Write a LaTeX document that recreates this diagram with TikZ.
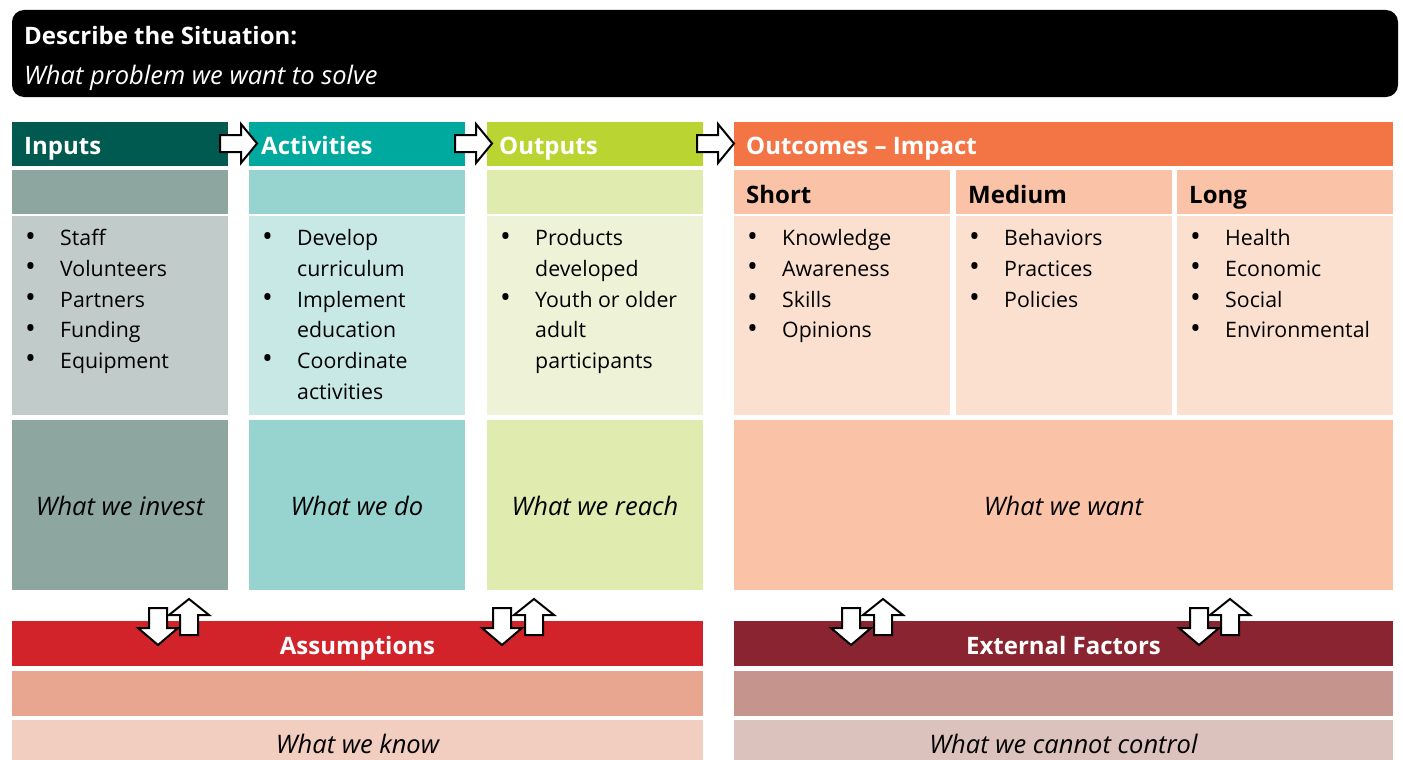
\documentclass[tikz,border=0pt]{standalone}
\usepackage{fontspec}
\setmainfont{Open Sans}
\usepackage{array}
\usepackage{graphicx}

% palette
\definecolor{inHd}{HTML}{005A4F}
\definecolor{inSub}{HTML}{8DA6A0}
\definecolor{inBody}{HTML}{C1CBC9}
\definecolor{acHd}{HTML}{00A99D}
\definecolor{acSub}{HTML}{97D4D0}
\definecolor{acBody}{HTML}{C8E8E6}
\definecolor{ouHd}{HTML}{BAD532}
\definecolor{ouSub}{HTML}{E0EBAF}
\definecolor{ouBody}{HTML}{EEF3D8}
\definecolor{ocHd}{HTML}{F37545}
\definecolor{ocSub}{HTML}{FAC3A8}
\definecolor{ocBody}{HTML}{FBDFCF}
\definecolor{asHd}{HTML}{D2232A}
\definecolor{asBand}{HTML}{E8A691}
\definecolor{asBot}{HTML}{F2CEC1}
\definecolor{exHd}{HTML}{8A2430}
\definecolor{exBand}{HTML}{C5948D}
\definecolor{exBot}{HTML}{DCC2BC}

\tikzset{
  panel/.style={rectangle, inner sep=0pt, outer sep=0pt, anchor=north west, draw=none},
  hdtext/.style={inner sep=0pt, anchor=base west, text=white, font=\fontsize{24}{28}\selectfont\bfseries},
  subtext/.style={inner sep=0pt, anchor=base west, text=black, font=\fontsize{24}{28}\selectfont\bfseries},
  midtext/.style={inner sep=0pt, anchor=base, text=white, font=\fontsize{24}{28}\selectfont\bfseries},
  ittext/.style={inner sep=0pt, anchor=base, text=black, font=\fontsize{25.5}{30}\selectfont\itshape},
  listtext/.style={inner sep=0pt, anchor=north west, align=left, text=black, font=\fontsize{21.3}{30.7}\selectfont},
  blockarrow/.style={draw=black, fill=white, line width=2pt, line join=miter}
}

% bulleted rows: a larger bullet, then the item text at a fixed indent
\newcommand{\itemlist}[1]{\begin{tabular}{@{}p{35pt}@{}l@{}}#1\end{tabular}}
\newcommand{\bul}{\raisebox{-0.5pt}{\scalebox{1.35}{•}}}

\begin{document}
\begin{tikzpicture}[x=1pt, y=-1pt]
\useasboundingbox (0,0) rectangle (1403,760);

% situation banner
\node[panel, fill=black, rounded corners=12pt, minimum width=1386, minimum height=87] (sit) at (12,10) {};
\node[hdtext] (sitT) at (24,45) {Describe the Situation:};
\node[hdtext, font=\fontsize{25.5}{30}\selectfont\itshape] (sitS) at (24,84.5) {What problem we want to solve};

% column headers
\node[panel, fill=inHd, minimum width=216, minimum height=44] (inHead) at (12,122) {};
\node[panel, fill=acHd, minimum width=216, minimum height=44] (acHead) at (249,122) {};
\node[panel, fill=ouHd, minimum width=216, minimum height=44] (ouHead) at (487,122) {};
\node[panel, fill=ocHd, minimum width=659, minimum height=44] (ocHead) at (734,122) {};
\node[hdtext] (inHeadT) at (24,154) {Inputs};
\node[hdtext] (acHeadT) at (261,154) {Activities};
\node[hdtext] (ouHeadT) at (499,154) {Outputs};
\node[hdtext] (ocHeadT) at (746,154) {Outcomes – Impact};

% sub-header bands
\node[panel, fill=inSub, minimum width=216, minimum height=44] (inSubB) at (12,170) {};
\node[panel, fill=acSub, minimum width=216, minimum height=44] (acSubB) at (249,170) {};
\node[panel, fill=ouSub, minimum width=216, minimum height=44] (ouSubB) at (487,170) {};
\node[panel, fill=ocSub, minimum width=216, minimum height=44] (shSubB) at (734,170) {};
\node[panel, fill=ocSub, minimum width=216, minimum height=44] (meSubB) at (956,170) {};
\node[panel, fill=ocSub, minimum width=216, minimum height=44] (loSubB) at (1177,170) {};
\node[subtext] (shSubT) at (746,203) {Short};
\node[subtext] (meSubT) at (968,203) {Medium};
\node[subtext] (loSubT) at (1189,203) {Long};

% list bodies
\node[panel, fill=inBody, minimum width=216, minimum height=199] (inBodyB) at (12,216) {};
\node[panel, fill=acBody, minimum width=216, minimum height=199] (acBodyB) at (249,216) {};
\node[panel, fill=ouBody, minimum width=216, minimum height=199] (ouBodyB) at (487,216) {};
\node[panel, fill=ocBody, minimum width=216, minimum height=199] (shBodyB) at (734,216) {};
\node[panel, fill=ocBody, minimum width=216, minimum height=199] (meBodyB) at (956,216) {};
\node[panel, fill=ocBody, minimum width=216, minimum height=199] (loBodyB) at (1177,216) {};

\node[listtext] (inList) at (25,224) {\itemlist{\bul&Staff\\\bul&Volunteers\\\bul&Partners\\\bul&Funding\\\bul&Equipment}};
\node[listtext] (acList) at (262,224) {\itemlist{\bul&Develop\\&curriculum\\\bul&Implement\\&education\\\bul&Coordinate\\&activities}};
\node[listtext] (ouList) at (500,224) {\itemlist{\bul&Products\\&developed\\\bul&Youth or older\\&adult\\&participants}};
\node[listtext] (shList) at (747,224) {\itemlist{\bul&Knowledge\\\bul&Awareness\\\bul&Skills\\\bul&Opinions}};
\node[listtext] (meList) at (969,224) {\itemlist{\bul&Behaviors\\\bul&Practices\\\bul&Policies}};
\node[listtext] (loList) at (1190,224) {\itemlist{\bul&Health\\\bul&Economic\\\bul&Social\\\bul&Environmental}};

% bottom boxes
\node[panel, fill=inSub, minimum width=216, minimum height=170] (inBot) at (12,420) {};
\node[panel, fill=acSub, minimum width=216, minimum height=170] (acBot) at (249,420) {};
\node[panel, fill=ouSub, minimum width=216, minimum height=170] (ouBot) at (487,420) {};
\node[panel, fill=ocSub, minimum width=659, minimum height=170] (ocBot) at (734,420) {};
\node[ittext] (inBotT) at (120,515) {What we invest};
\node[ittext] (acBotT) at (357,515) {What we do};
\node[ittext] (ouBotT) at (595,515) {What we reach};
\node[ittext] (ocBotT) at (1063.5,515) {What we want};

% assumptions and external factors
\node[panel, fill=asHd, minimum width=691, minimum height=45] (asHead) at (12,621) {};
\node[panel, fill=asBand, minimum width=691, minimum height=45] (asBandB) at (12,671) {};
\node[panel, fill=asBot, minimum width=691, minimum height=40] (asBotB) at (12,720) {};
\node[panel, fill=exHd, minimum width=659, minimum height=45] (exHead) at (734,621) {};
\node[panel, fill=exBand, minimum width=659, minimum height=45] (exBandB) at (734,671) {};
\node[panel, fill=exBot, minimum width=659, minimum height=40] (exBotB) at (734,720) {};
\node[midtext] (asHeadT) at (357.5,654) {Assumptions};
\node[midtext] (exHeadT) at (1063.5,654) {External Factors};
\node[ittext] (asBotT) at (357.5,753) {What we know};
\node[ittext] (exBotT) at (1063.5,753) {What we cannot control};

% right block arrows between headers
\foreach \x in {220,455,697}{
  \draw[blockarrow] (\x,135) -- (\x+21,135) -- (\x+21,124) -- (\x+37,143.5)
    -- (\x+21,163) -- (\x+21,152) -- (\x,152) -- cycle;
}

% down/up block arrow pairs
\foreach \d/\u in {158/189, 502/534, 851/883, 1199/1230}{
  \draw[blockarrow] (\d-9,608) -- (\d+9,608) -- (\d+9,628) -- (\d+20,628)
    -- (\d,645) -- (\d-20,628) -- (\d-9,628) -- cycle;
  \draw[blockarrow] (\u-9,635) -- (\u+9,635) -- (\u+9,615) -- (\u+20,615)
    -- (\u,599) -- (\u-20,615) -- (\u-9,615) -- cycle;
}
\end{tikzpicture}
\end{document}
